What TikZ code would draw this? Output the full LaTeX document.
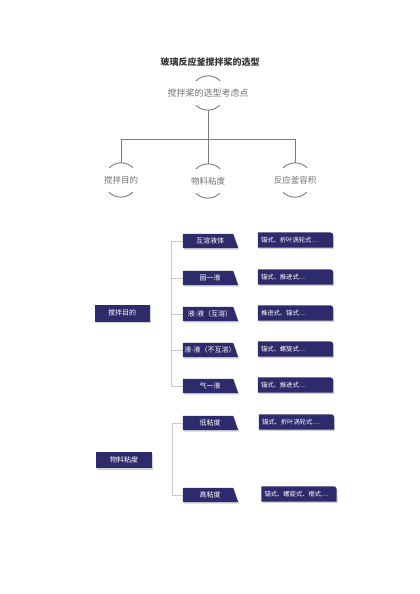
\documentclass[tikz,border=0pt]{standalone}
\usepackage{fontspec}
\setmainfont{Noto Sans CJK SC}
\usetikzlibrary{shadows,backgrounds}
\definecolor{navy}{HTML}{2E2B6C}
\definecolor{greytext}{HTML}{707070}
\definecolor{greyline}{HTML}{7A7A7A}
\newcommand{\moredots}{....}
\begin{document}
\begin{tikzpicture}[x=1pt, y=-1pt]
    \tikzstyle{ring}=[circle, minimum size=34pt, inner sep=0pt]
    \tikzstyle{ringtext}=[text=greytext, font=\fontsize{8.5}{10}\selectfont]
    \tikzstyle{tree}=[draw=greyline, line width=0.9pt]
    \tikzstyle{boxshadow}=[drop shadow={opacity=0.35, shadow xshift=1pt, shadow yshift=-1.5pt}]
    \tikzstyle{topic}=[rectangle, fill=navy, boxshadow, text=white, inner sep=0pt,
                       font=\fontsize{7}{8}\selectfont]
    \tikzstyle{case}=[rectangle, minimum width=50pt, minimum height=14pt, inner sep=0pt]
    \tikzstyle{casetext}=[text=white, font=\fontsize{7}{8}\selectfont, xshift=2pt]
    \tikzstyle{pick}=[rectangle, minimum width=75pt, minimum height=15pt, text width=69pt,
                      inner sep=3pt, align=left, text=white, font=\fontsize{6.3}{7}\selectfont]
    \tikzstyle{bracket}=[draw=gray!45, line width=0.6pt]

    \useasboundingbox (0,0) rectangle (420,594);

    % title and the three points to consider
    \node[font=\fontsize{9}{11}\selectfont\bfseries, text=black!80] (title) at (210,62) {玻璃反应釜搅拌桨的选型};
    \node[ring, label={[ringtext, font=\fontsize{9}{11}\selectfont]center:搅拌桨的选型考虑点}] (top) at (208,93) {};
    \node[ring, label={[ringtext]center:搅拌目的}] (c1) at (121,180) {};
    \node[ring, label={[ringtext]center:物料粘度}] (c2) at (208,181) {};
    \node[ring, label={[ringtext]center:反应釜容积}] (c3) at (295,180) {};

    \foreach \c in {top,c1,c2,c3}
        \draw[tree] (\c.45) arc[start angle=45, end angle=135, radius=17pt]
                    (\c.225) arc[start angle=225, end angle=315, radius=17pt];

    \draw[tree] (top.south) -- ++(0,29) coordinate (bus);
    \draw[tree] (c1.north) |- (bus) -| (c3.north);
    \draw[tree] (bus) -- (c2.north);

    % lower part: purpose / viscosity
    \node[topic, minimum width=55pt, minimum height=17pt] (aim) at (122,313) {搅拌目的};
    \node[topic, minimum width=56pt, minimum height=16pt] (visc) at (124,460) {物料粘度};

    \foreach \n/\y/\x/\a/\b in {1/241/295.5/互溶液体/锚式、折叶涡轮式,
                                2/278/295.5/固一液/锚式、推进式,
                                3/314/295.5/液-液（互溶）/推进式、锚式,
                                4/350/295.5/液-液（不互溶）/锚式、螺旋式,
                                5/386/295.5/气一液/锚式、推进式,
                                6/423/296.5/低粘度/锚式、折叶涡轮式,
                                7/495/299/高粘度/锚式、螺旋式、框式}
    {
        \node[case, label={[casetext]center:\a}] (m\n) at (208,\y) {};
        \node[pick] (r\n) at (\x,\y-1) {\b\moredots};
    }

    \begin{scope}[on background layer]
        \foreach \n in {1,2,3,4,5,6,7} {
            \fill[navy, boxshadow] (m\n.south west) -- (m\n.north west) -- (m\n.north east)
                -- ([xshift=5pt]m\n.south east) -- cycle;
            \fill[navy, boxshadow] (r\n.south west) -- (r\n.north west)
                -- ([xshift=-3pt]r\n.north east) arc[start angle=90, end angle=0, radius=3pt]
                -- (r\n.south east) -- cycle;
        }
    \end{scope}

    \draw[bracket] (m1.west) -- ++(-12,0) |- (m5.west);
    \foreach \n in {2,3,4}
        \draw[bracket] (m\n.west) -- ++(-12,0);
    \draw[bracket] (m6.west) -- ++(-11,0) |- (m7.west);
\end{tikzpicture}
\end{document}
